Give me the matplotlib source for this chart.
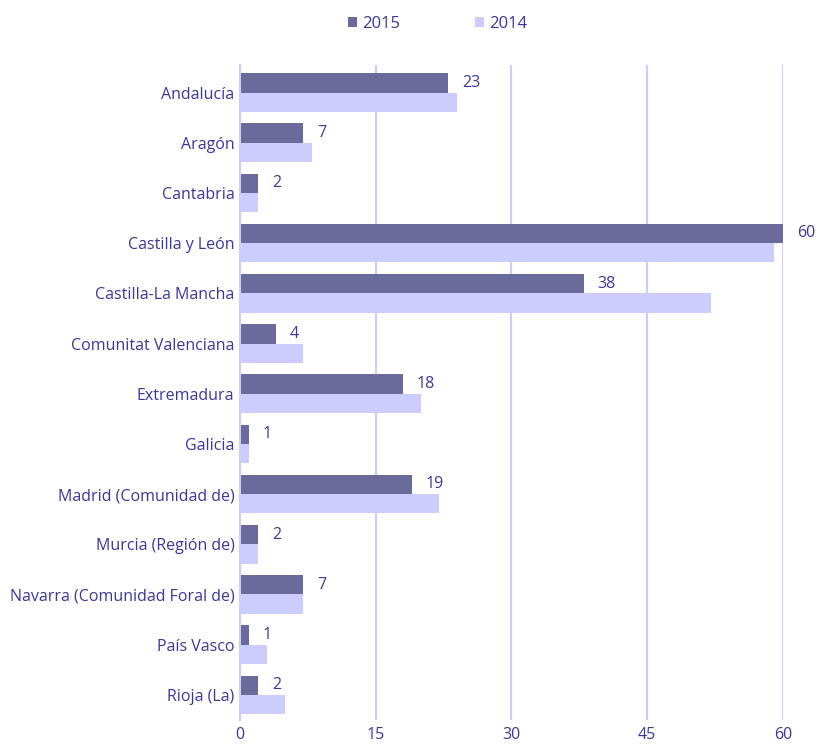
import matplotlib
matplotlib.use("Agg")
import matplotlib.pyplot as plt
import numpy as np

regions = ["Andalucía", "Aragón", "Cantabria", "Castilla y León", "Castilla-La Mancha",
           "Comunitat Valenciana", "Extremadura", "Galicia", "Madrid (Comunidad de)",
           "Murcia (Región de)", "Navarra (Comunidad Foral de)", "País Vasco", "Rioja (La)"]
values_2015 = [23, 7, 2, 60, 38, 4, 18, 1, 19, 2, 7, 1, 2]
values_2014 = [24, 8, 2, 59, 52, 7, 20, 1, 22, 2, 7, 3, 5]
xticks = [0, 15, 30, 45, 60]

text_color = "#3b3799"
dark = "#6b6b9b"
light = "#ccccff"
grid_color = "#ccccff"

plt.rcParams["font.family"] = ["Open Sans", "DejaVu Sans"]

fig = plt.figure(figsize=(8.18, 7.45), dpi=100)
ax = fig.add_axes([0.2934, 0.0336, 0.6638, 0.8792])

y = np.arange(len(regions))
h = 0.385
ax.barh(y - h / 2, values_2015, height=h, color=dark, label="2015", zorder=3)
ax.barh(y + h / 2, values_2014, height=h, color=light, label="2014", zorder=3)

# value labels for 2015
for yi, v in zip(y, values_2015):
    ax.annotate(str(v), xy=(v, yi - h / 2), xytext=(10, 0), textcoords="offset points",
                va="center", ha="left", color=text_color, fontsize=11.5)

ax.set_xlim(0, 60)
ax.set_ylim(12.5, -0.55)
ax.set_yticks(y)
ax.set_yticklabels(regions)
ax.set_xticks(xticks)
ax.set_xticklabels([str(t) for t in xticks])
ax.tick_params(axis="both", length=0, colors=text_color, labelsize=11.5)
ax.tick_params(axis="y", pad=4)
ax.tick_params(axis="x", pad=5)

for s in ["top", "right", "bottom"]:
    ax.spines[s].set_visible(False)
ax.spines["left"].set_color(grid_color)
ax.spines["left"].set_linewidth(1.5)
ax.spines["left"].set_zorder(4)
ax.xaxis.grid(True, color=grid_color, linewidth=1.5, zorder=0)
ax.set_axisbelow(True)

leg = fig.legend(loc="upper center", bbox_to_anchor=(0.535, 0.999), ncol=2, frameon=False,
                 fontsize=12, handlelength=0.55, handleheight=0.55, handletextpad=0.3,
                 columnspacing=4.5)
for t in leg.get_texts():
    t.set_color(text_color)

fig.savefig("out.png", dpi=100)
